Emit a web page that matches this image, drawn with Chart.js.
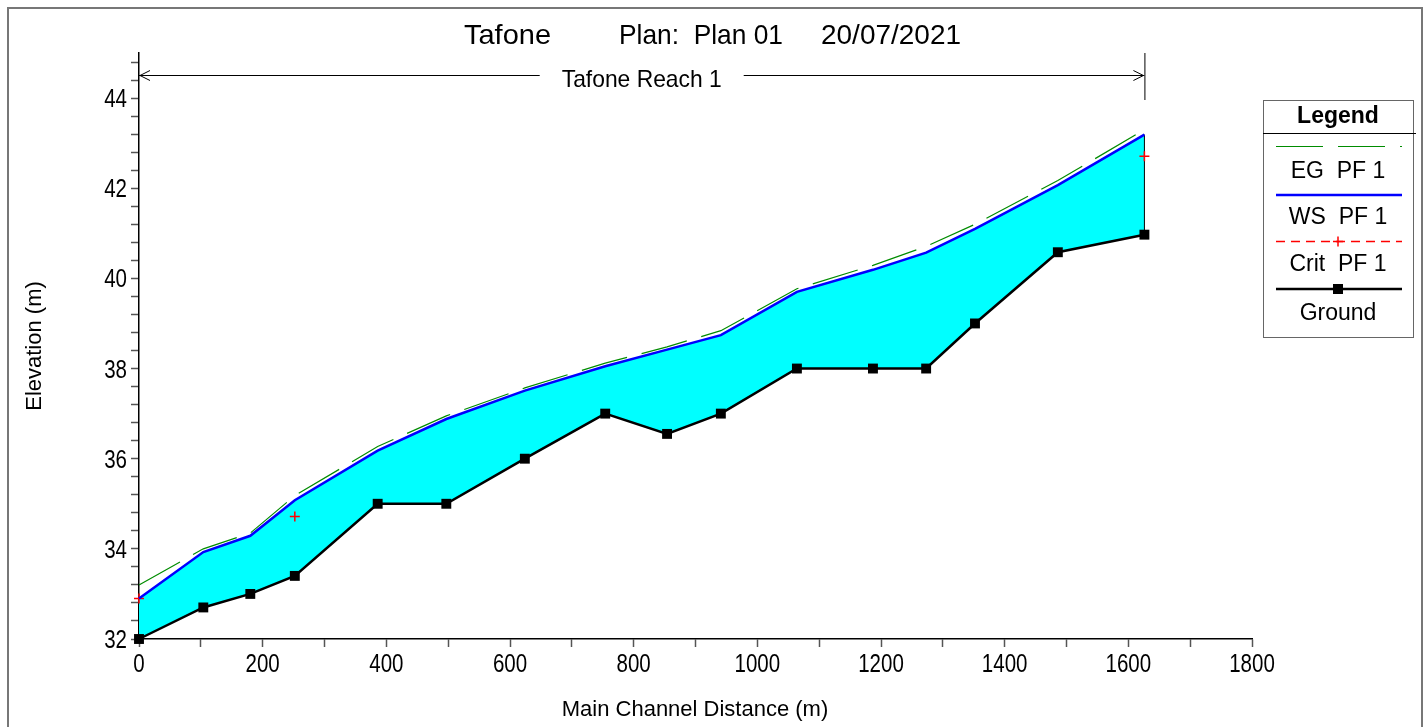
<!DOCTYPE html>
<html>
<head>
<meta charset="utf-8">
<script src="https://cdn.jsdelivr.net/npm/chart.js@4.4.0/dist/chart.umd.min.js"></script>
<style>
html, body { margin: 0; padding: 0; background: #fff; }
canvas { display: block; }
</style>
</head>
<body>
<canvas id="perfil" width="1426" height="727"></canvas>
<script>
const estacoes = [0, 104, 180, 252, 386, 497, 624, 754, 854, 941, 1064, 1187, 1273, 1352, 1486, 1626]
const egPF1 = [33.20, 34.00, 34.35, 35.18, 36.27, 36.95, 37.57, 38.12, 38.48, 38.84, 39.77, 40.29, 40.71, 41.20, 42.17, 43.30]
const wsPF1 = [32.90, 33.93, 34.29, 35.08, 36.18, 36.88, 37.51, 38.05, 38.42, 38.74, 39.70, 40.19, 40.57, 41.10, 42.07, 43.19]
const critPF1 = [32.90, null, null, 34.72, null, null, null, null, null, null, null, null, null, null, null, 42.71]
const terreno = [32.00, 32.70, 33.00, 33.40, 35.00, 35.00, 36.00, 37.00, 36.55, 37.00, 38.00, 38.00, 38.00, 39.00, 40.58, 40.97]

const rotulosX = [0, 200, 400, 600, 800, 1000, 1200, 1400, 1600, 1800]
const rotulosY = [32, 34, 36, 38, 40, 42, 44]
const nomes = ['EG  PF 1', 'WS  PF 1', 'Crit  PF 1', 'Ground']

const fonte = '"Liberation Sans", Arial, sans-serif'

function pontos(valores) {
    return estacoes.map((e, i) => ({ x: e, y: valores[i] }))
}

function marcas(min, max, passo) {
    const lista = []
    const n = Math.floor((max - min) / passo + 1e-9)
    for (let i = 0; i <= n; i++) lista.push({ value: +(min + i * passo).toFixed(2) })
    return lista
}

// desenha texto com largura ajustada (ou fator de compressao horizontal)
function texto(ctx, str, x, y, tamanho, largura, alinhamento, fator) {
    ctx.save()
    ctx.font = tamanho + 'px ' + fonte
    const w = ctx.measureText(str).width
    const s = largura ? largura / w : (fator || 1)
    ctx.translate(x, y)
    ctx.scale(s, 1)
    ctx.textAlign = alinhamento || 'left'
    ctx.textBaseline = 'alphabetic'
    ctx.fillText(str, 0, 0)
    ctx.restore()
}

function rotularEixos(ctx, x, y) {
    ctx.save()
    ctx.fillStyle = '#000'
    rotulosX.forEach(v => texto(ctx, String(v), x.getPixelForValue(v), 672, 25, 0, 'center', 0.82))
    rotulosY.forEach(v => texto(ctx, String(v), 127, y.getPixelForValue(v) + 9, 25, 0, 'right', 0.82))
    ctx.restore()
}

function desenharLegenda(ctx) {
    ctx.save()
    ctx.strokeStyle = '#666'
    ctx.lineWidth = 1
    ctx.strokeRect(1263.5, 100.5, 150, 237)
    ctx.strokeStyle = '#000'
    ctx.beginPath()
    ctx.moveTo(1263, 133.5)
    ctx.lineTo(1416, 133.5)
    ctx.stroke()

    ctx.fillStyle = '#000'
    ctx.textAlign = 'center'
    ctx.font = 'bold 23px ' + fonte
    ctx.fillText('Legend', 1338, 123)
    ctx.font = '23px ' + fonte
    ctx.fillText(nomes[0], 1338, 178)
    ctx.fillText(nomes[1], 1338, 224)
    ctx.fillText(nomes[2], 1338, 271)
    ctx.fillText(nomes[3], 1338, 320)

    // EG
    ctx.strokeStyle = 'rgb(0,140,0)'
    ctx.lineWidth = 1.2
    ctx.setLineDash([47, 15])
    ctx.beginPath()
    ctx.moveTo(1276, 146.5)
    ctx.lineTo(1402, 146.5)
    ctx.stroke()

    // WS
    ctx.setLineDash([])
    ctx.strokeStyle = '#0000ff'
    ctx.lineWidth = 2.5
    ctx.beginPath()
    ctx.moveTo(1276, 195)
    ctx.lineTo(1402, 195)
    ctx.stroke()

    // Crit
    ctx.strokeStyle = '#ff0000'
    ctx.lineWidth = 1.3
    ctx.setLineDash([9, 6])
    ctx.beginPath()
    ctx.moveTo(1276, 241.5)
    ctx.lineTo(1402, 241.5)
    ctx.stroke()
    ctx.setLineDash([])
    ctx.lineWidth = 1.5
    ctx.beginPath()
    ctx.moveTo(1333, 241.5)
    ctx.lineTo(1343, 241.5)
    ctx.moveTo(1338, 236.5)
    ctx.lineTo(1338, 246.5)
    ctx.stroke()

    // Ground
    ctx.strokeStyle = '#000'
    ctx.lineWidth = 2.5
    ctx.beginPath()
    ctx.moveTo(1276, 289)
    ctx.lineTo(1402, 289)
    ctx.stroke()
    ctx.fillRect(1333, 284, 10, 10)
    ctx.restore()
}

const decoracao = {
    id: 'decoracao',
    beforeDatasetsDraw(chart) {
        const { ctx, scales: { x, y } } = chart
        const ult = estacoes.length - 1
        const xi = x.getPixelForValue(estacoes[ult])
        ctx.save()
        ctx.strokeStyle = '#000'
        ctx.lineWidth = 1
        ctx.beginPath()
        ctx.moveTo(xi, y.getPixelForValue(wsPF1[ult]))
        ctx.lineTo(xi, y.getPixelForValue(terreno[ult]))
        ctx.stroke()
        ctx.restore()
    },
    afterDraw(chart) {
        const { ctx, scales: { x, y } } = chart
        ctx.save()

        // moldura
        ctx.strokeStyle = '#777'
        ctx.lineWidth = 2
        ctx.strokeRect(8, 8, 1414, 740)

        // titulo
        ctx.fillStyle = '#000'
        texto(ctx, 'Tafone', 464, 44, 28, 87)
        texto(ctx, 'Plan:  Plan 01', 619, 44, 28, 164)
        texto(ctx, '20/07/2021', 821, 44, 28, 140)

        // trecho
        const x0 = x.getPixelForValue(estacoes[0])
        const x1 = x.getPixelForValue(estacoes[estacoes.length - 1])
        const meio = (x0 + x1) / 2
        const ya = 75.5
        ctx.strokeStyle = '#000'
        ctx.lineWidth = 1
        ctx.beginPath()
        ctx.moveTo(x0, ya)
        ctx.lineTo(meio - 102, ya)
        ctx.moveTo(meio + 102, ya)
        ctx.lineTo(x1, ya)
        ctx.moveTo(x0 + 11, ya - 5)
        ctx.lineTo(x0 + 1, ya)
        ctx.lineTo(x0 + 11, ya + 5)
        ctx.moveTo(x1 - 11, ya - 5)
        ctx.lineTo(x1 - 1, ya)
        ctx.lineTo(x1 - 11, ya + 5)
        ctx.moveTo(x1 + 0.5, 53)
        ctx.lineTo(x1 + 0.5, 100)
        ctx.stroke()
        texto(ctx, 'Tafone Reach 1', meio - 80, 87, 24, 160)

        rotularEixos(ctx, x, y)

        // titulos dos eixos
        ctx.font = '22px ' + fonte
        ctx.textAlign = 'center'
        ctx.textBaseline = 'alphabetic'
        ctx.fillText('Main Channel Distance (m)', 695, 716)
        ctx.save()
        ctx.translate(41, 346)
        ctx.rotate(-Math.PI / 2)
        ctx.fillText('Elevation (m)', 0, 0)
        ctx.restore()

        ctx.restore()
        desenharLegenda(ctx)
    }
}

new Chart(document.getElementById('perfil').getContext('2d'), {
    type: 'line',
    data: {
        datasets: [{
            label: nomes[0],
            data: pontos(egPF1),
            borderColor: 'rgb(0,140,0)',
            borderWidth: 1.2,
            borderDash: [47, 15],
            pointRadius: 0,
            fill: false,
            clip: false
        }, {
            label: nomes[1],
            data: pontos(wsPF1),
            borderColor: '#0000ff',
            borderWidth: 2.5,
            backgroundColor: '#00ffff',
            pointRadius: 0,
            fill: 3,
            clip: false
        }, {
            label: nomes[2],
            data: pontos(critPF1),
            showLine: false,
            pointStyle: 'cross',
            pointRadius: 5,
            borderColor: '#ff0000',
            borderWidth: 1.5,
            clip: false
        }, {
            label: nomes[3],
            data: pontos(terreno),
            borderColor: '#000',
            borderWidth: 2.5,
            pointStyle: 'rect',
            pointRadius: 7,
            pointBackgroundColor: '#000',
            pointBorderColor: '#000',
            pointBorderWidth: 0,
            fill: false,
            clip: false
        }]
    },
    options: {
        responsive: false,
        animation: false,
        layout: { padding: { left: 79, right: 174, top: 53, bottom: 0 } },
        plugins: {
            legend: { display: false },
            title: { display: false },
            tooltip: { enabled: false },
            filler: { drawTime: 'beforeDatasetsDraw' }
        },
        scales: {
            x: {
                type: 'linear',
                min: 0,
                max: 1800,
                afterBuildTicks: (eixo) => { eixo.ticks = marcas(0, 1800, 100) },
                afterFit: (eixo) => { eixo.height = 88 },
                border: { color: '#000', width: 1.5 },
                grid: { drawOnChartArea: false, drawTicks: true, tickLength: 8, tickColor: '#555', tickWidth: 1.5 },
                ticks: { display: false, autoSkip: false }
            },
            y: {
                min: 32,
                max: 45,
                afterBuildTicks: (eixo) => { eixo.ticks = marcas(32, 45, 0.4) },
                afterFit: (eixo) => { eixo.width = 60 },
                border: { color: '#000', width: 1.5 },
                grid: { drawOnChartArea: false, drawTicks: true, tickLength: 8, tickColor: '#555', tickWidth: 1.5 },
                ticks: { display: false, autoSkip: false }
            }
        }
    },
    plugins: [decoracao]
})
</script>
</body>
</html>
